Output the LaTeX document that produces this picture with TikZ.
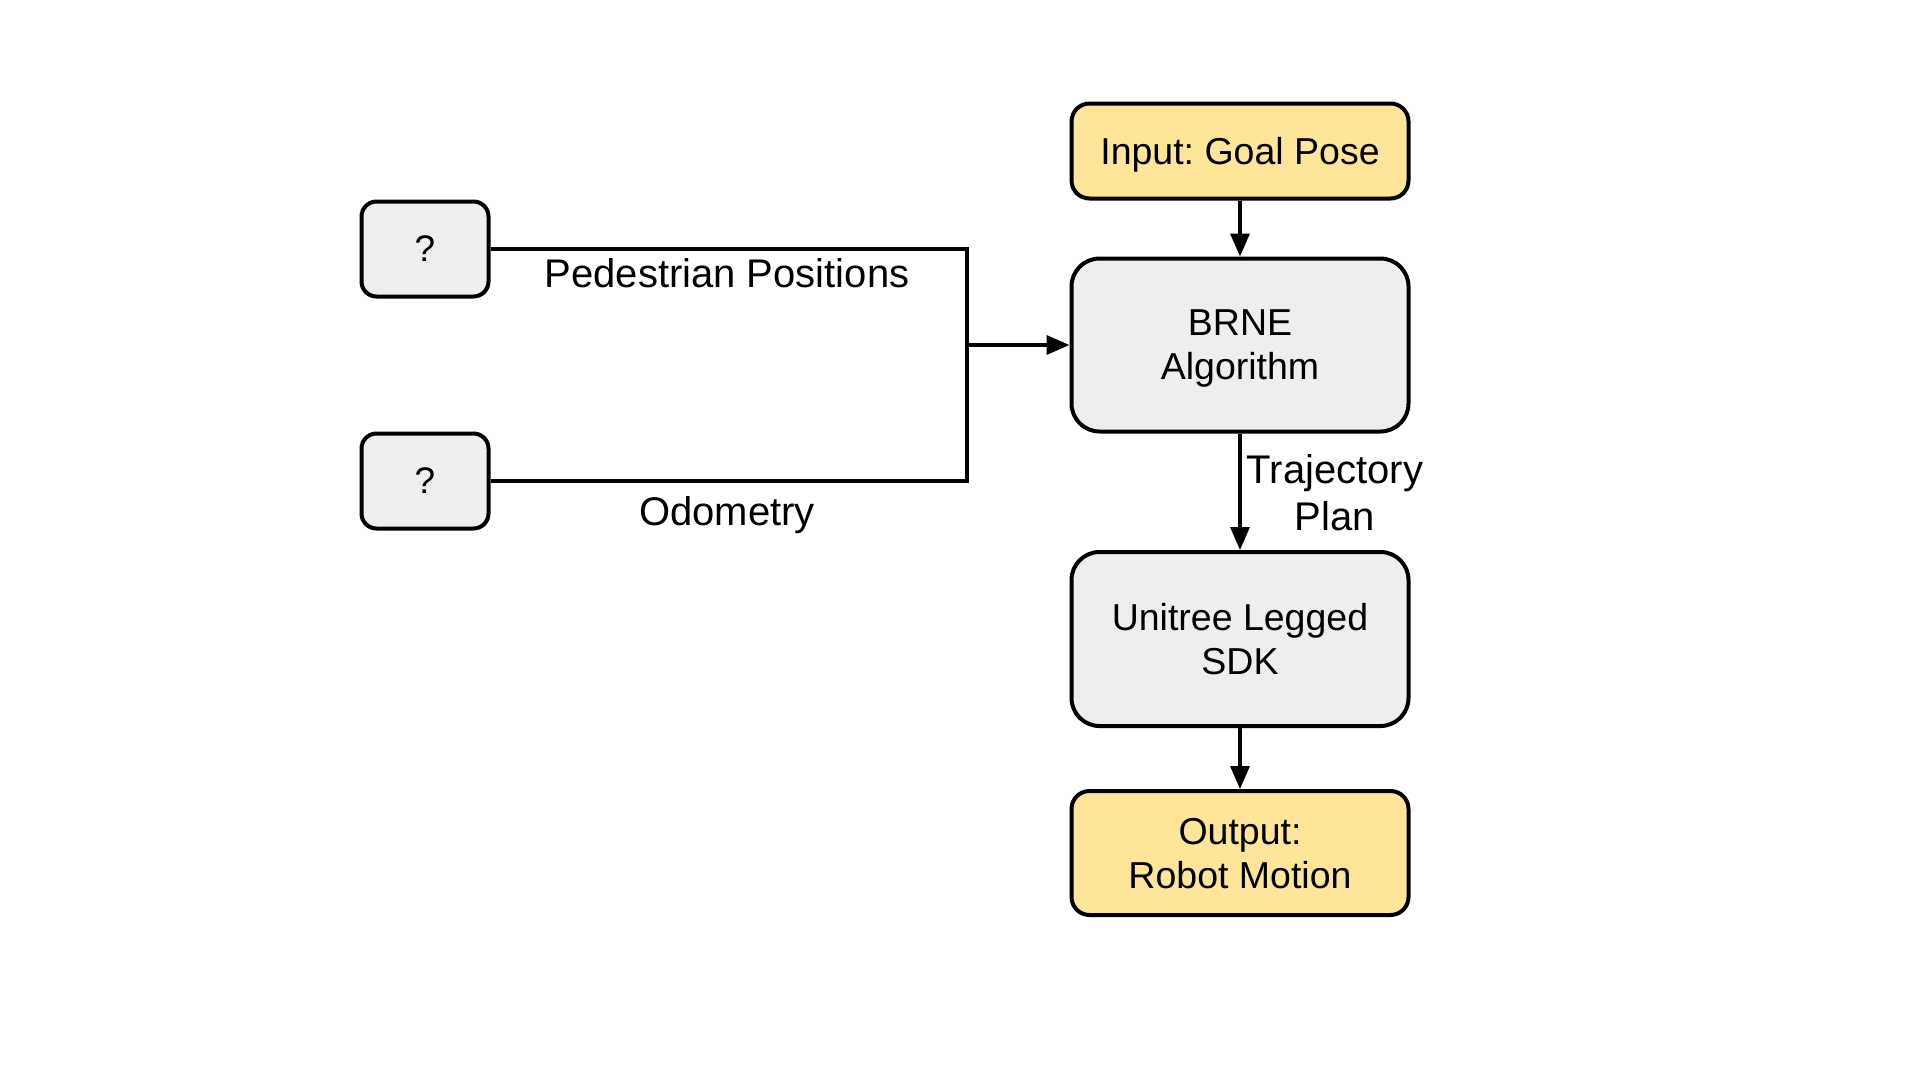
\documentclass[tikz,border=0pt]{standalone}
\usepackage{fontspec}
\setmainfont{Liberation Sans}
\usetikzlibrary{arrows.meta}
\definecolor{boxgray}{HTML}{EEEEEE}
\definecolor{boxyellow}{HTML}{FFE599}
\begin{document}
\frenchspacing
\begin{tikzpicture}[x=1pt,y=-1pt,
  box/.style={draw=black, line width=4pt, rounded corners=18pt, minimum width=337pt, align=center, inner sep=0pt, text depth=0pt, font=\fontsize{37.5}{44}\selectfont},
  graybox/.style={box, fill=boxgray},
  yellowbox/.style={box, fill=boxyellow},
  qbox/.style={draw=black, line width=4pt, rounded corners=15pt, fill=boxgray, minimum width=127pt, minimum height=95pt, inner sep=0pt, font=\fontsize{37}{44}\selectfont},
  conn/.style={line width=3.5pt},
  arr/.style={conn, -{Triangle[length=23pt,width=19pt]}},
  lbl/.style={font=\fontsize{40}{47}\selectfont, align=center, inner sep=0pt, text depth=0pt}
]
\useasboundingbox (0,0) rectangle (1920,1080);
\node[yellowbox, minimum height=95pt] (in) at (1240,151) {Input: Goal Pose};
\node[graybox, minimum height=173pt, rounded corners=28pt] (brne) at (1240,345) {BRNE\\Algorithm};
\node[graybox, minimum height=174pt, rounded corners=28pt] (sdk) at (1240,639) {Unitree Legged\\SDK};
\node[yellowbox, minimum height=124pt] (out) at (1240,853) {Output:\\Robot Motion};
\node[qbox] (q1) at (425,249) {?};
\node[qbox] (q2) at (425,481) {?};
\coordinate (j) at (967,345);
\draw[conn] (q1.east) -- (q1.east -| j) -- (q2.east -| j) -- (q2.east);
\draw[arr] (j) -- (brne.west);
\draw[arr] (in) -- (brne);
\draw[arr] (brne) -- (sdk);
\draw[arr] (sdk) -- (out);
\node[lbl, anchor=base] (pp) at (727,287) {Pedestrian Positions};
\node[lbl, anchor=base] (od) at (727,525) {Odometry};
\node[lbl] (tp) at (1335,492) {Trajectory\\Plan};
\end{tikzpicture}
\end{document}
